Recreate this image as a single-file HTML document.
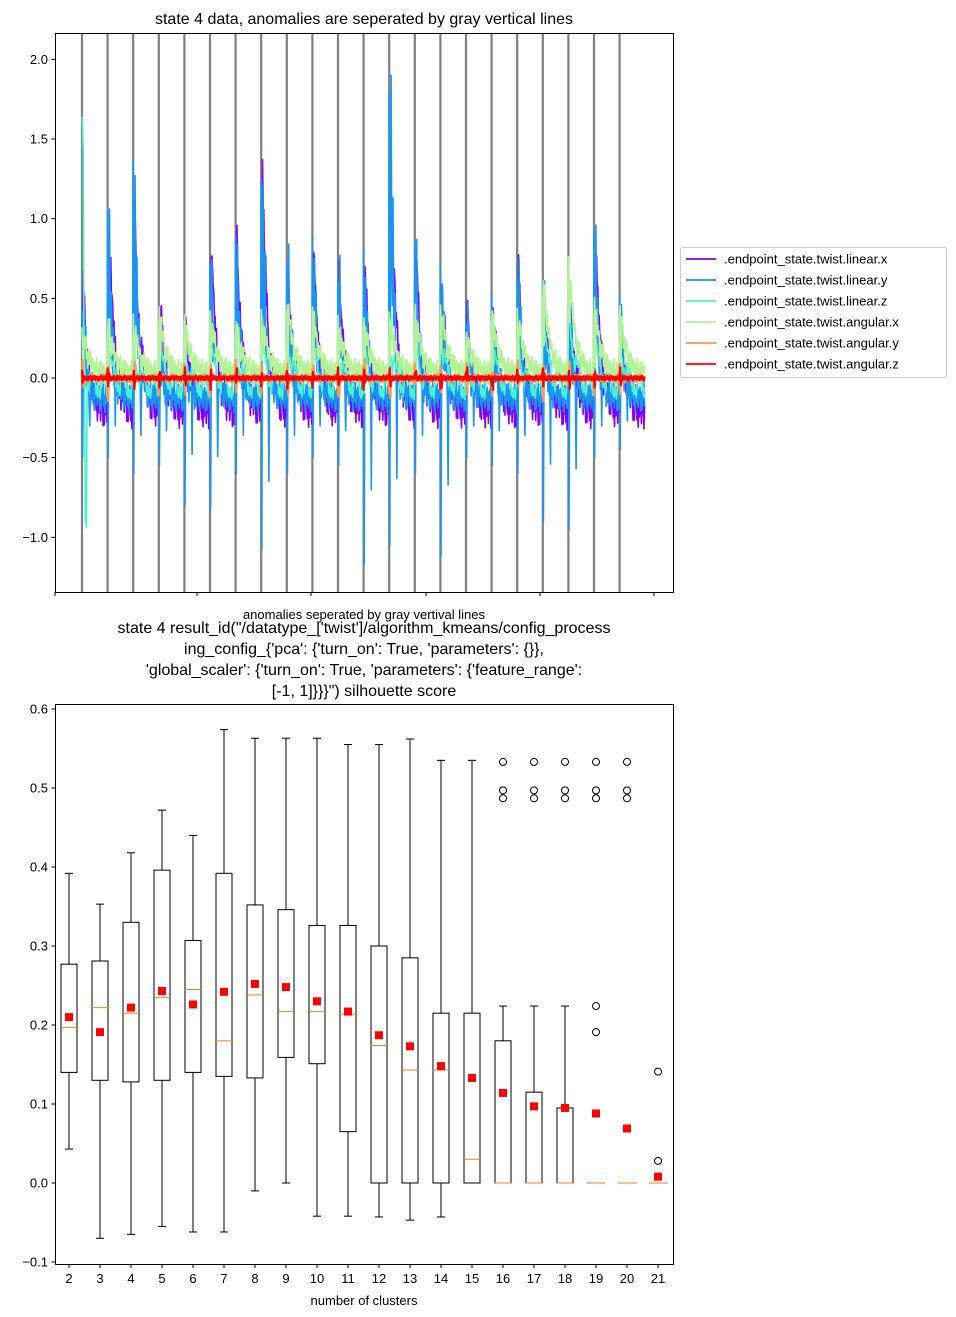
<!DOCTYPE html>
<html><head><meta charset="utf-8"><style>
body{margin:0;background:#fff;}
svg{display:block;font-family:"Liberation Sans","DejaVu Sans",sans-serif;}
</style></head><body>
<svg id="fig" width="956" height="1317" viewBox="0 0 956 1317" xmlns="http://www.w3.org/2000/svg">
<rect width="956" height="1317" fill="#fff"/>
<text x="364" y="24" font-size="16" text-anchor="middle">state 4 data, anomalies are seperated by gray vertical lines</text>
<g id="topchart"></g>
<text x="364" y="619" font-size="13" text-anchor="middle">anomalies seperated by gray vertival lines</text>
<g font-size="16" text-anchor="middle">
<text x="364" y="633">state 4 result_id("/datatype_['twist']/algorithm_kmeans/config_process</text>
<text x="364" y="654">ing_config_{'pca': {'turn_on': True, 'parameters': {}},</text>
<text x="364" y="675">'global_scaler': {'turn_on': True, 'parameters': {'feature_range':</text>
<text x="364" y="696">[-1, 1]}}}") silhouette score</text>
</g>
<g id="botchart"></g>
<text x="364" y="1305" font-size="13" text-anchor="middle">number of clusters</text>
<g>
<rect x="680.5" y="247.5" width="266" height="130" fill="#fff" stroke="#ccc" rx="2"/>
<g id="leg"></g>
</g>
</svg>
<script>
// ---------- top chart data ----------
const boundaries=[0,1,2,3,4,5,6,7,8,9,10,11,12,13,14,15,16,17,18,19,20,21];
const purplePeak=[0.75,1.2,1.35,0.7,0.5,1.05,1.2,1.5,0.95,1.0,0.95,0.88,1.65,1.0,0.88,0.6,0.7,0.85,0.7,0.73,1.1,0.45];
const bluePeak=[0.6,1.1,1.4,0.4,0.3,0.85,1.0,1.4,0.9,0.95,0.8,0.85,2.0,0.95,0.8,0.55,0.6,0.8,0.65,0.7,1.05,0.6];
const blueMin=[-0.5,-0.5,-0.6,-0.55,-0.8,-0.82,-0.6,-1.08,-0.6,-0.5,-0.55,-1.17,-1.05,-0.6,-1.12,-0.5,-0.55,-0.6,-0.9,-0.95,-0.5,-0.45];
const greenPeak=[0.2,0.25,0.25,0.3,0.25,0.3,0.25,0.3,0.35,0.3,0.25,0.25,0.3,0.3,0.35,0.2,0.3,0.3,0.45,0.55,0.35,0.3];
const jitter=[0.3,-0.8,0.5,-0.2,0.9,-0.6,0.1,-1,0.7,-0.4,0.2,0.8,-0.7,0.4,-0.1,0.6,-0.9];
const seriesNames=[".endpoint_state.twist.linear.x",".endpoint_state.twist.linear.y",".endpoint_state.twist.linear.z",".endpoint_state.twist.angular.x",".endpoint_state.twist.angular.y",".endpoint_state.twist.angular.z"];
const seriesColors=["#8000ff","#1996f3","#4cf2ce","#b2f396","#ff964f","#ff0000"];
const topYTicks=[-1.0,-0.5,0.0,0.5,1.0,1.5,2.0];
const topYLabels=["\u22121.0","\u22120.5","0.0","0.5","1.0","1.5","2.0"];

// ---------- bottom chart data ----------
const clusters=[2,3,4,5,6,7,8,9,10,11,12,13,14,15,16,17,18,19,20,21];
const whisLo=[0.043,-0.07,-0.065,-0.055,-0.062,-0.062,-0.01,0.0,-0.042,-0.042,-0.043,-0.047,-0.043,0,0,0,0,0,0,0];
const q1=[0.14,0.13,0.128,0.13,0.14,0.135,0.133,0.159,0.151,0.065,0,0,0,0,0,0,0,0,0,0];
const med=[0.197,0.222,0.215,0.235,0.245,0.18,0.238,0.217,0.217,0.214,0.174,0.143,0.143,0.03,0,0,0,0,0,0];
const q3=[0.277,0.281,0.33,0.396,0.307,0.392,0.352,0.346,0.326,0.326,0.3,0.285,0.215,0.215,0.18,0.115,0.095,0,0,0];
const whisHi=[0.392,0.353,0.418,0.472,0.44,0.574,0.563,0.563,0.563,0.555,0.555,0.562,0.535,0.535,0.224,0.224,0.224,0,0,0];
const means=[0.21,0.191,0.222,0.243,0.226,0.242,0.252,0.248,0.23,0.217,0.187,0.173,0.148,0.133,0.114,0.097,0.095,0.088,0.069,0.008];
const fliers=[[],[],[],[],[],[],[],[],[],[],[],[],[],[],[0.533,0.497,0.487],[0.533,0.497,0.487],[0.533,0.497,0.487],[0.533,0.497,0.487,0.224,0.191],[0.533,0.497,0.487],[0.141,0.028]];
const botYTicks=[-0.1,0.0,0.1,0.2,0.3,0.4,0.5,0.6];
const botYLabels=["\u22120.1","0.0","0.1","0.2","0.3","0.4","0.5","0.6"];

const NS="http://www.w3.org/2000/svg";
function mk(tag,attrs,parent){const e=document.createElementNS(NS,tag);for(const k in attrs)e.setAttribute(k,attrs[k]);parent.appendChild(e);return e;}

// ---------- top chart ----------
const topG=document.getElementById('topchart');
const TX0=55,TX1=673,TY0=33,TY1=592;
const tx=t=>82+t*25.6;
const ty=v=>378-v*159.3;
boundaries.forEach(b=>{
  const l=mk('line',{x1:tx(b),x2:tx(b),y1:TY0,y2:TY1,stroke:'#808080','stroke-width':2.2},topG);
  
  
});
const S=40;
function buildSeries(k){
  let d='';
  for(let i=0;i<boundaries.length;i++){
    for(let s=0;s<S;s++){
      const t=boundaries[i]+s/S;
      const j=jitter[(s+i*3+k*5)%jitter.length];
      const j2=jitter[(s*2+i+k)%jitter.length];
      const dec=Math.exp(-Math.max(0,s-2)/9);
      let v;
      if(k===0){v=purplePeak[i]*dec*(s<2?0.4:1)*(0.85+0.15*j2)+(-0.22+0.12*j)*(1-dec*0.6);}
      else if(k===1){v=bluePeak[i]*Math.exp(-Math.max(0,s-3)/6)*(s%3===0?1:0.45)+(-0.12+0.1*j);if(s===1)v=blueMin[i];if(s===12)v=blueMin[i]*0.6;}
      else if(k===2){v=(i===0?(s<3?1.5-s*0.1:(s>=5&&s<8?-0.9:0)):0)+greenPeak[i]*0.8*dec+(-0.06+0.08*j2);}
      else if(k===3){v=greenPeak[i]*dec*1.2+(0.03+0.08*j)+(s===2?-0.35:0);}
      else if(k===4){v=(s<3?0.12*j:0)+0.025*j2;}
      else {v=(s<3?0.06*j:0)+0.015*j;}
      d+=(d?'L':'M')+tx(t).toFixed(1)+','+ty(v).toFixed(1);
    }
  }
  return d;
}
for(let k=0;k<6;k++){
  const p=mk('path',{d:buildSeries(k),fill:'none',stroke:seriesColors[k],'stroke-width':k>=4?2.2:1.6,'stroke-linejoin':'round'},topG);
  
  
}
mk('rect',{x:TX0+0.5,y:TY0+0.5,width:TX1-TX0,height:TY1-TY0,fill:'none',stroke:'#000','stroke-width':1},topG);
topYTicks.forEach((v,i)=>{
  const y=ty(v);
  mk('line',{x1:TX0-3.5,x2:TX0,y1:y,y2:y,stroke:'#000'},topG);
  const t=mk('text',{x:TX0-7,y:y+4.5,'font-size':13,'text-anchor':'end'},topG);
  t.textContent=topYLabels[i];
  
  
});
[55,197,311,426,540,654].forEach(x=>mk('line',{x1:x,x2:x,y1:TY1,y2:TY1+4,stroke:'#000'},topG));

// legend
const leg=document.getElementById('leg');
seriesNames.forEach((n,i)=>{
  const y=259+i*21;
  mk('line',{x1:686,x2:716,y1:y,y2:y,stroke:seriesColors[i],'stroke-width':1.8},leg);
  const t=mk('text',{x:724,y:y+4.5,'font-size':13},leg);
  t.textContent=n;
  
  
});

// ---------- bottom chart ----------
const botG=document.getElementById('botchart');
const BX0=55,BX1=673,BY0=704,BY1=1264;
const bx=c=>69+(c-2)*31.0;
const by=v=>1183-v*790;
const hw=8;
clusters.forEach((c,i)=>{
  const g=mk('g',{},botG);
  
  
  const x=bx(c);
  mk('line',{x1:x,x2:x,y1:by(whisLo[i]),y2:by(q1[i]),stroke:'#000'},g);
  mk('line',{x1:x,x2:x,y1:by(q3[i]),y2:by(whisHi[i]),stroke:'#000'},g);
  mk('line',{x1:x-hw/2,x2:x+hw/2,y1:by(whisLo[i]),y2:by(whisLo[i]),stroke:'#000'},g);
  mk('line',{x1:x-hw/2,x2:x+hw/2,y1:by(whisHi[i]),y2:by(whisHi[i]),stroke:'#000'},g);
  mk('rect',{x:x-hw,y:by(q3[i]),width:2*hw,height:Math.max(0.01,by(q1[i])-by(q3[i])),fill:'none',stroke:'#000'},g);
  mk('line',{x1:x-hw,x2:x+hw,y1:by(med[i]),y2:by(med[i]),stroke:'#ff7f0e'},g);
  fliers[i].forEach(f=>{
    const o=mk('circle',{cx:x,cy:by(f),r:3.5,fill:'none',stroke:'#000'},g);
    
    
  });
  const m=mk('rect',{x:x-4,y:by(means[i])-4,width:8,height:8,fill:'#ff0000'},g);
  
  
  mk('line',{x1:x,x2:x,y1:BY1,y2:BY1+4,stroke:'#000'},botG);
  const t=mk('text',{x:x,y:BY1+19,'font-size':13,'text-anchor':'middle'},botG);
  t.textContent=String(c);
  
  
});
mk('rect',{x:BX0+0.5,y:BY0+0.5,width:BX1-BX0,height:BY1-BY0,fill:'none',stroke:'#000'},botG);
botYTicks.forEach((v,i)=>{
  const y=by(v);
  mk('line',{x1:BX0-3.5,x2:BX0,y1:y,y2:y,stroke:'#000'},botG);
  const t=mk('text',{x:BX0-7,y:y+4.5,'font-size':13,'text-anchor':'end'},botG);
  t.textContent=botYLabels[i];
  
  
});
</script>
</body></html>
